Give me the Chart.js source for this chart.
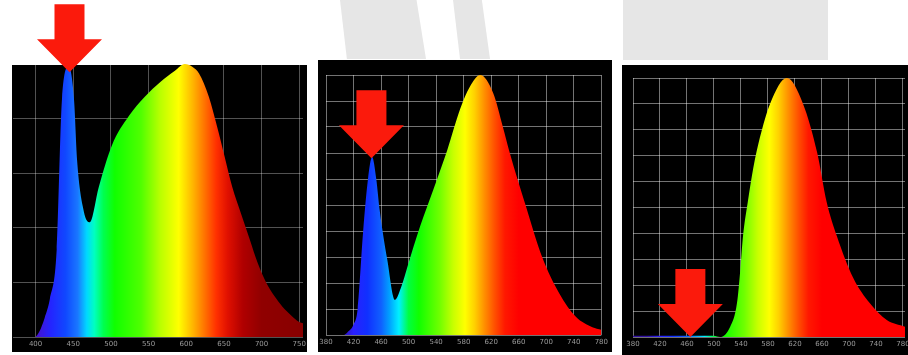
<!DOCTYPE html>
<html>
<head>
<meta charset="utf-8">
<script src="https://cdn.jsdelivr.net/npm/chart.js@4.4.1/dist/chart.umd.min.js"></script>
<style>
  html, body { margin: 0; padding: 0; background: #fff; width: 908px; height: 355px; overflow: hidden; }
  body { position: relative; font-family: "DejaVu Sans", sans-serif; }
  .mark { position: absolute; background: #e6e6e6; }
  .box { position: absolute; background: #000; }
  canvas { position: absolute; }
</style>
</head>
<body>
<!-- grey watermark bits behind the charts -->
<div class="mark" style="left:340px;top:0;width:86px;height:59px;clip-path:polygon(0 0,89% 0,100% 100%,8% 100%);"></div>
<div class="mark" style="left:453px;top:0;width:37px;height:59px;clip-path:polygon(0 0,78% 0,100% 100%,19% 100%);"></div>
<div class="mark" style="left:623px;top:0;width:205px;height:60px;"></div>

<div class="box" style="left:12px;top:65px;width:295px;height:287px;"></div>
<div class="box" style="left:318px;top:60px;width:294px;height:292px;"></div>
<div class="box" style="left:622px;top:65px;width:286px;height:290px;"></div>

<canvas id="c1" width="310" height="352" style="left:3px;top:0;"></canvas>
<canvas id="c2" width="295" height="352" style="left:316px;top:0;"></canvas>
<canvas id="c3" width="300" height="355" style="left:623px;top:0;"></canvas>

<script>
// chart 1 : white LED with strong blue peak
const wl1 = [370, 399, 405, 412, 419, 428, 435, 444, 451, 455, 464, 472, 484, 501, 524, 545, 566, 585, 598, 608, 617, 630, 641, 651, 661, 673, 684, 695, 706, 717, 728, 739, 750, 755]
const val1 = [0, 0, 0.02, 0.07, 0.14, 0.32, 0.87, 0.99, 0.87, 0.65, 0.46, 0.42, 0.55, 0.70, 0.81, 0.88, 0.935, 0.975, 1.0, 0.99, 0.965, 0.88, 0.77, 0.66, 0.55, 0.45, 0.36, 0.27, 0.2, 0.15, 0.11, 0.08, 0.055, 0.05]
const ticks1 = [400, 450, 500, 550, 600, 650, 700, 750]

// chart 2 : smaller blue peak
const wl2 = [380, 405, 411, 420, 426, 434, 441, 447, 453, 458, 469, 480, 490, 498, 517, 536, 556, 575, 589, 604, 623, 637, 646, 671, 694, 719, 743, 767, 780]
const val2 = [0, 0, 0.01, 0.04, 0.10, 0.40, 0.60, 0.685, 0.60, 0.48, 0.29, 0.135, 0.19, 0.26, 0.42, 0.56, 0.71, 0.87, 0.955, 1.0, 0.93, 0.80, 0.71, 0.49, 0.3, 0.16, 0.07, 0.03, 0.02]
const ticks2 = [380, 420, 460, 500, 540, 580, 620, 660, 700, 740, 780]

// chart 3 : no blue at all
const wl3 = [380, 500, 509, 524, 534, 539, 543, 550, 558, 568, 583, 608, 632, 653, 667, 682, 706, 731, 756, 783]
const val3 = [0.005, 0.005, 0, 0.04, 0.13, 0.26, 0.39, 0.52, 0.65, 0.77, 0.90, 1.0, 0.90, 0.71, 0.52, 0.39, 0.23, 0.13, 0.066, 0.04]
const ticks3 = [380, 420, 460, 500, 540, 580, 620, 660, 700, 740, 780]

// where the red arrows point (wavelength, value)
const arrow1 = [445, 0.97]
const arrow2 = [446, 0.68]
const arrow3 = [465, 0]

const colors1 = [[399, '#4a10c8'], [420, '#2424ff'], [440, '#1048ff'], [456, '#1a78ff'], [468, '#00d8ff'], [478, '#00ffc0'], [490, '#00ff50'], [505, '#10ff00'], [540, '#50ff00'], [565, '#b8ff00'], [590, '#ffff00'], [610, '#ffb000'], [625, '#ff7000'], [640, '#ff3000'], [655, '#e01000'], [675, '#b00000'], [700, '#900000'], [755, '#880000']]
const colors2 = [[400, '#3010a0'], [420, '#2a20ff'], [440, '#1030ff'], [460, '#1060ff'], [472, '#00a0ff'], [486, '#00f0ff'], [500, '#00ff40'], [515, '#10ff00'], [545, '#70ff00'], [565, '#c8ff00'], [582, '#ffff00'], [596, '#ffd000'], [610, '#ff9000'], [625, '#ff5000'], [640, '#ff1800'], [660, '#ff0000'], [785, '#ff0000']]

const spectrum = (stops) => (ctx) => {
    const chart = ctx.chart
    const area = chart.chartArea
    if (!area) return null
    const x = chart.scales.x
    const g = chart.ctx.createLinearGradient(area.left, 0, area.right, 0)
    stops.forEach(([w, c]) => {
        let t = (x.getPixelForValue(w) - area.left) / (area.right - area.left)
        t = Math.min(1, Math.max(0, t))
        g.addColorStop(t, c)
    })
    return g
}

const arrowPlugin = (target) => ({
    id: 'arrow',
    afterDraw(chart) {
        const c = chart.ctx
        const tx = chart.scales.x.getPixelForValue(target[0])
        const ty = chart.scales.y.getPixelForValue(target[1])
        const headW = 65, headH = 33, shaftW = 30, shaftH = 35
        c.save()
        c.fillStyle = '#fb1a0c'
        c.beginPath()
        c.moveTo(tx, ty)
        c.lineTo(tx - headW / 2, ty - headH)
        c.lineTo(tx - shaftW / 2, ty - headH)
        c.lineTo(tx - shaftW / 2, ty - headH - shaftH)
        c.lineTo(tx + shaftW / 2, ty - headH - shaftH)
        c.lineTo(tx + shaftW / 2, ty - headH)
        c.lineTo(tx + headW / 2, ty - headH)
        c.closePath()
        c.fill()
        c.restore()
    }
})

const makeChart = (id, wl, val, tickValues, xMin, xMax, yStep, stops, target, pad, axisH, gridColor) => {
    new Chart(document.getElementById(id), {
        type: 'line',
        data: {
            datasets: [{
                data: wl.map((w, i) => ({x: w, y: val[i]})),
                fill: 'origin',
                backgroundColor: spectrum(stops),
                borderWidth: 0,
                pointRadius: 0,
                cubicInterpolationMode: 'monotone'
            }]
        },
        options: {
            responsive: false,
            animation: false,
            devicePixelRatio: 1,
            layout: { padding: pad },
            scales: {
                x: {
                    type: 'linear',
                    min: xMin,
                    max: xMax,
                    z: 1,
                    afterBuildTicks: (s) => { s.ticks = tickValues.map(v => ({value: v})) },
                    afterFit: (s) => { s.height = axisH },
                    border: { display: false },
                    grid: { color: gridColor, drawTicks: false },
                    ticks: {
                        color: '#9a9a9a',
                        padding: 3,
                        maxRotation: 0,
                        autoSkip: false,
                        font: { size: 7, family: 'DejaVu Sans' }
                    }
                },
                y: {
                    min: 0,
                    max: 1,
                    z: 1,
                    afterFit: (s) => { s.width = 0 },
                    border: { display: false },
                    grid: { color: gridColor, drawTicks: false },
                    ticks: { display: false, stepSize: yStep }
                }
            },
            plugins: {
                legend: { display: false },
                tooltip: { enabled: false }
            }
        },
        plugins: [arrowPlugin(target)]
    })
}

makeChart('c1', wl1, val1, ticks1, 370, 755, 0.2, colors1, arrow1, {left: 10, right: 10, top: 64, bottom: 0}, 15, 'rgba(255,255,255,0.32)')
makeChart('c2', wl2, val2, ticks2, 380, 780, 0.1, colors2, arrow2, {left: 10, right: 9, top: 75, bottom: 0}, 17, 'rgba(255,255,255,0.45)')
makeChart('c3', wl3, val3, ticks3, 380, 783, 0.1, colors2, arrow3, {left: 10, right: 18, top: 78, bottom: 0}, 18, 'rgba(255,255,255,0.45)')
</script>
</body>
</html>
